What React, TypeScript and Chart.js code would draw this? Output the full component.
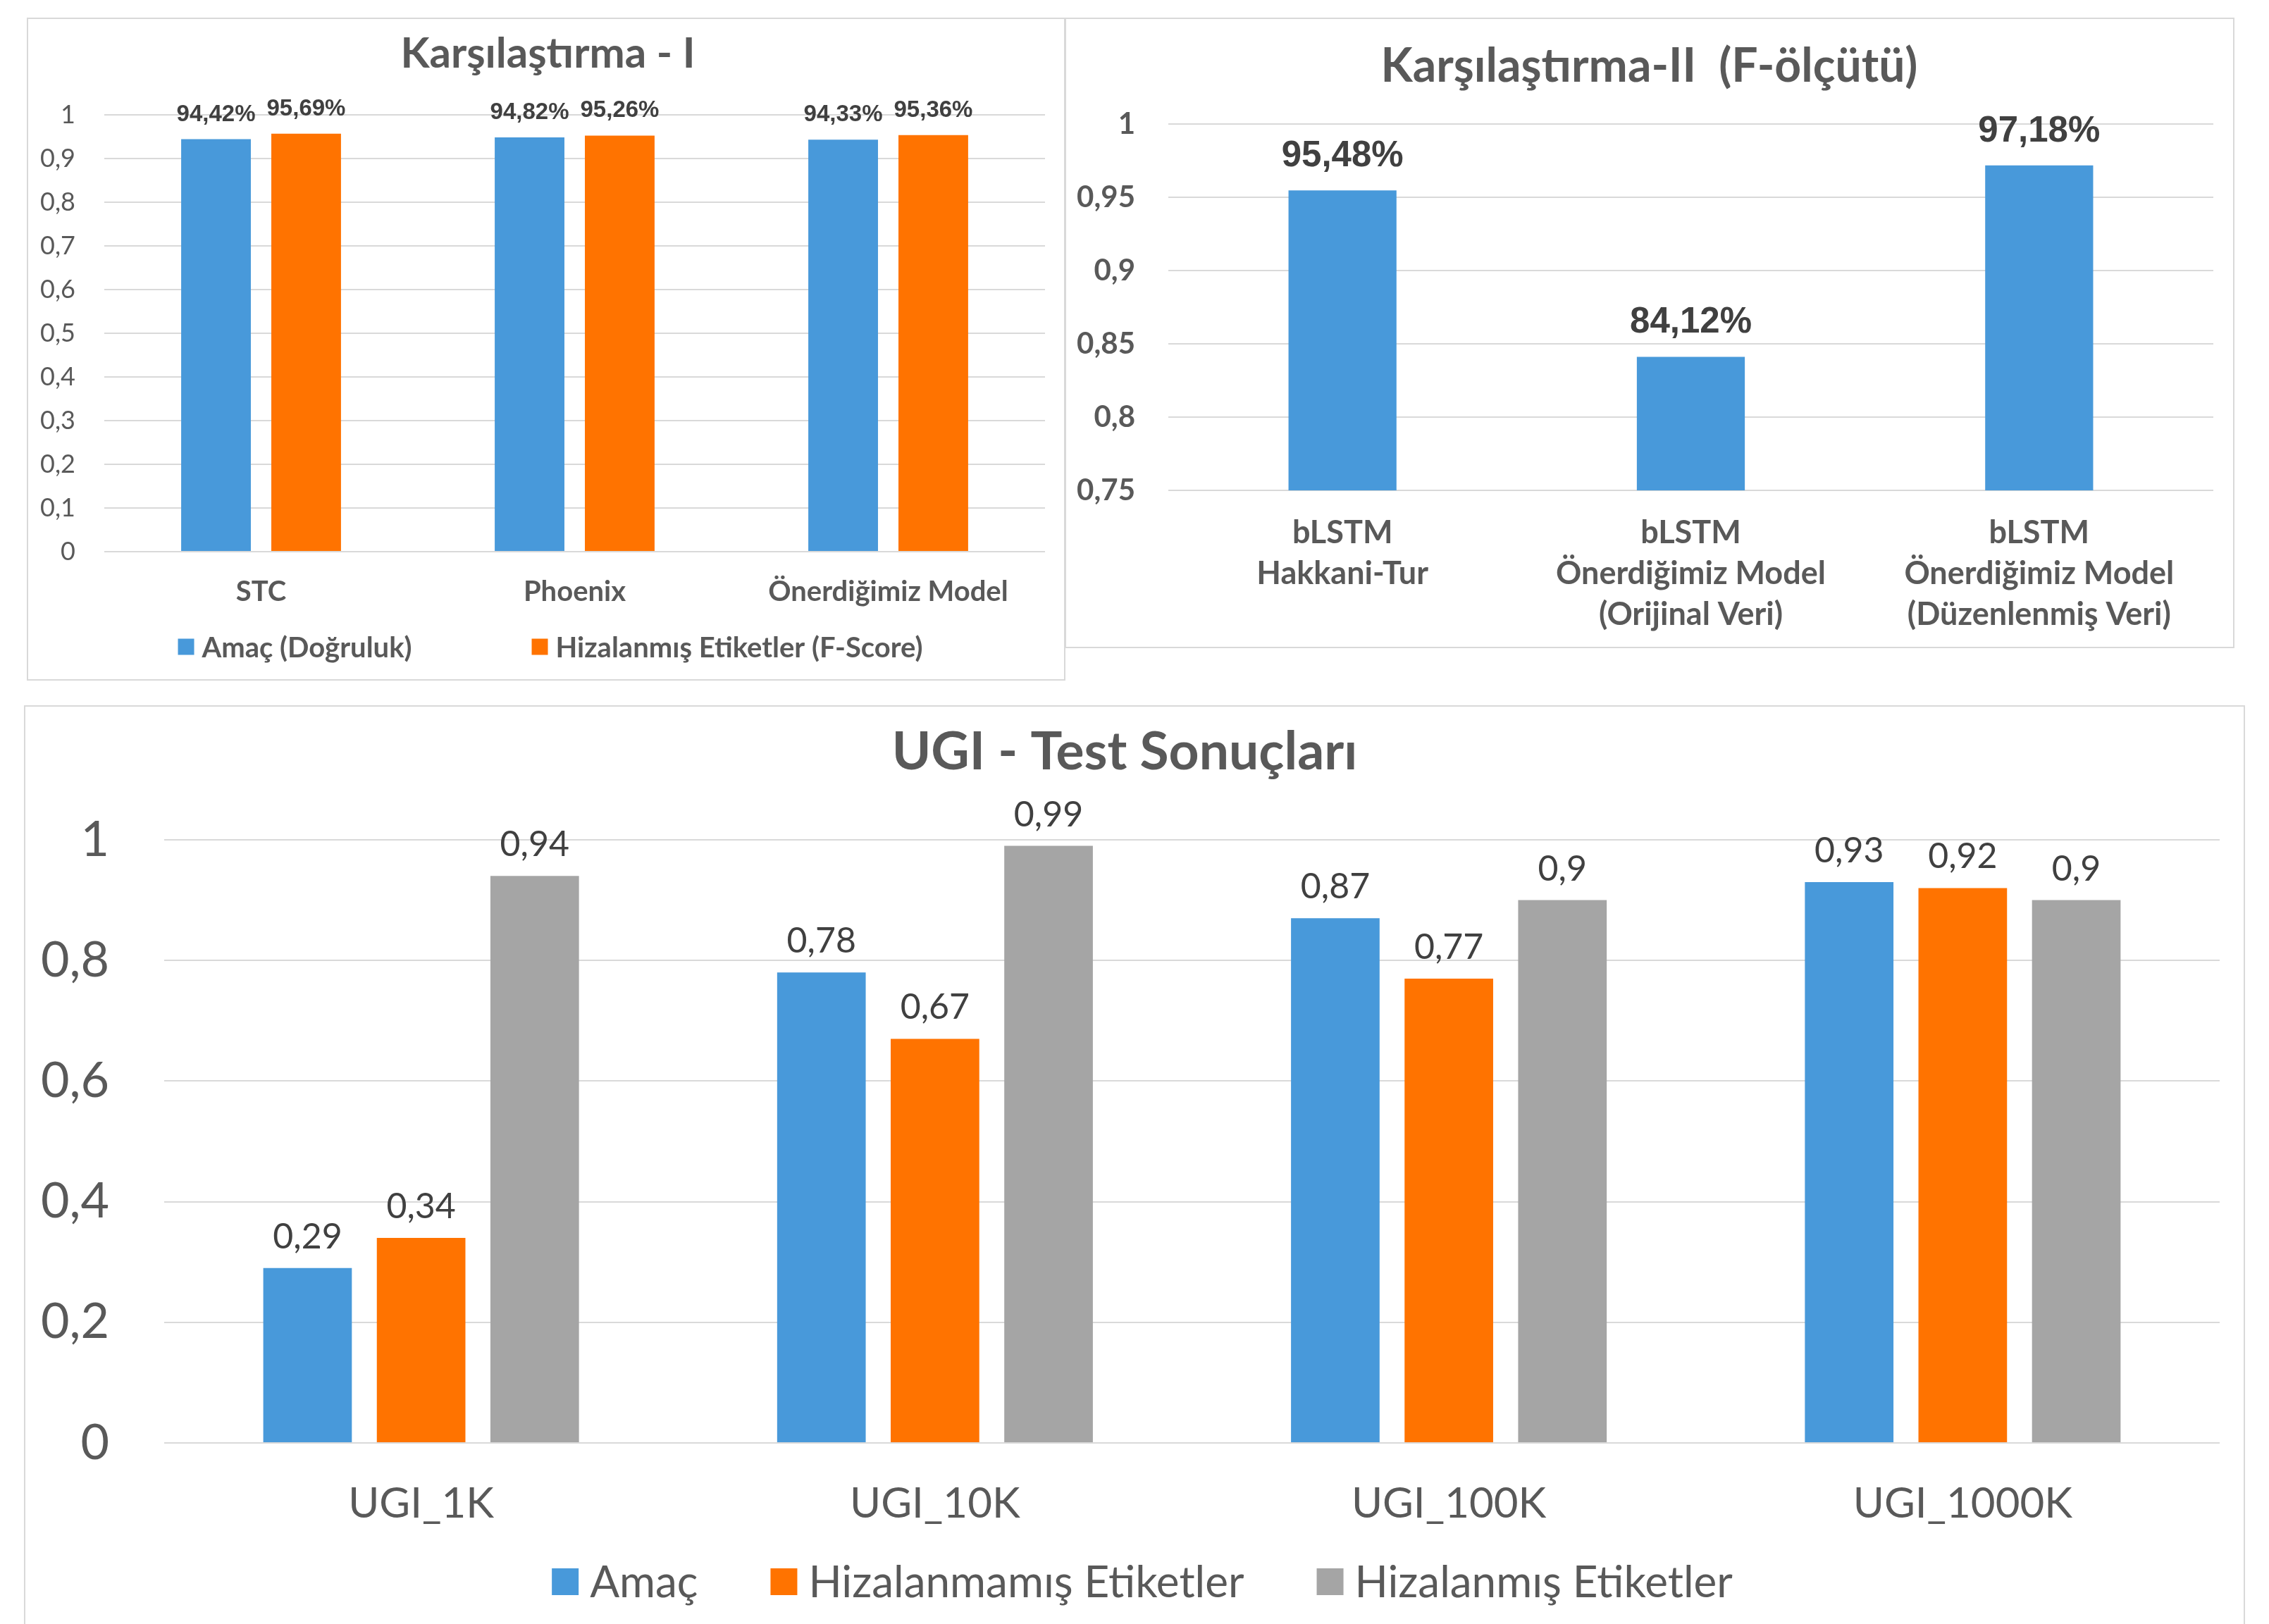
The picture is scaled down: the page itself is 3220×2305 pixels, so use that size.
import React, { useEffect, useRef } from 'react';
import { Chart, registerables } from 'chart.js';

Chart.register(...registerables);

// ---------- styling constants ----------
const FONT = 'Lato, "Open Sans", sans-serif';
const LABEL_FONT = '"Liberation Sans", Arial, sans-serif';
const TEXT = '#595959';
const DARK = '#404040';
const GRID = '#D9D9D9';
const BLUE = '#4899DA';
const ORANGE = '#FF7300';
const GRAY = '#A5A5A5';

// ---------- data: Karşılaştırma - I ----------
const cmp1Title = 'Karşılaştırma - I';
const cmp1Categories = ['STC', 'Phoenix', 'Önerdiğimiz Model'];
const cmp1SeriesNames = ['Amaç (Doğruluk)', 'Hizalanmış Etiketler (F-Score)'];
const cmp1Accuracy = [0.9442, 0.9482, 0.9433];
const cmp1FScore = [0.9569, 0.9526, 0.9536];
const cmp1Axis = [0, 1, 0.1]; // min, max, step

// ---------- data: Karşılaştırma-II ----------
const cmp2Title = 'Karşılaştırma-II  (F-ölçütü)';
const cmp2Categories = [
  ['bLSTM', 'Hakkani-Tur'],
  ['bLSTM', 'Önerdiğimiz Model', '(Orijinal Veri)'],
  ['bLSTM', 'Önerdiğimiz Model', '(Düzenlenmiş Veri)'],
];
const cmp2SeriesName = 'F-ölçütü';
const cmp2FMeasure = [0.9548, 0.8412, 0.9718];
const cmp2Axis = [0.75, 1, 0.05];

// ---------- data: UGI - Test Sonuçları ----------
const ugiTitle = 'UGI - Test Sonuçları';
const ugiCategories = ['UGI_1K', 'UGI_10K', 'UGI_100K', 'UGI_1000K'];
const ugiSeriesNames = ['Amaç', 'Hizalanmamış Etiketler', 'Hizalanmış Etiketler'];
const ugiAmac = [0.29, 0.78, 0.87, 0.93];
const ugiUnaligned = [0.34, 0.67, 0.77, 0.92];
const ugiAligned = [0.94, 0.99, 0.9, 0.9];
const ugiAxis = [0, 1, 0.2];

// ---------- helpers ----------
const decComma = (v: number) => String(Number(v.toFixed(2))).replace('.', ',');
const pctComma = (v: number) => (v * 100).toFixed(2).replace('.', ',') + '%';

const barLabels = {
  id: 'barLabels',
  afterDatasetsDraw(chart: any, _args: any, opts: any) {
    if (!opts || !opts.display) return;
    const ctx = chart.ctx;
    ctx.save();
    ctx.font = opts.font;
    ctx.fillStyle = opts.color;
    ctx.textAlign = 'center';
    ctx.textBaseline = 'alphabetic';
    chart.data.datasets.forEach((ds: any, di: number) => {
      const meta = chart.getDatasetMeta(di);
      meta.data.forEach((el: any, i: number) => {
        const v = ds.data[i];
        const txt = opts.format === 'pct' ? pctComma(v) : decComma(v);
        ctx.fillText(txt, el.x, el.y - opts.offset);
      });
    });
    ctx.restore();
  },
};

const boxLegend = {
  id: 'boxLegend',
  afterDraw(chart: any, _args: any, opts: any) {
    if (!opts || !opts.display) return;
    const ctx = chart.ctx;
    ctx.save();
    ctx.font = opts.font;
    ctx.textBaseline = 'middle';
    ctx.textAlign = 'left';
    const items = chart.data.datasets.map((d: any) => ({ text: d.label, color: d.backgroundColor }));
    const widths = items.map((it: any) => opts.box + opts.textGap + ctx.measureText(it.text).width);
    const total = widths.reduce((a: number, b: number) => a + b, 0) + opts.gap * (items.length - 1);
    let x = opts.centerX - total / 2;
    items.forEach((it: any, i: number) => {
      ctx.fillStyle = it.color;
      ctx.fillRect(x, opts.y - opts.box / 2, opts.box, opts.box);
      ctx.fillStyle = opts.color;
      ctx.fillText(it.text, x + opts.box + opts.textGap, opts.y + 2);
      x += widths[i] + opts.gap;
    });
    ctx.restore();
  },
};

// let the y tick labels use the room left of the axis box (title is centred with a left padding)
const yLabelRoom = {
  id: 'yLabelRoom',
  afterLayout(chart: any) {
    const s = chart.scales.y;
    if (s) s.left = 0;
  },
};

type Geo = {
  padL: number; padR: number;
  yWidth: number; yPad: number; yFont: any;
  xHeight: number; xPad: number; xFont: any;
  titleSize: number; titleTop: number; titleBottom: number;
  cp: number; bp: number;
  labelFont: string; labelOffset: number; labelFormat: string;
  legend: any;
};

function buildChart(canvas: HTMLCanvasElement, title: string, labels: any[], datasets: any[], axis: number[], g: Geo) {
  return new Chart(canvas, {
    type: 'bar',
    data: {
      labels,
      datasets: datasets.map((d) => ({
        ...d,
        borderWidth: 0,
        categoryPercentage: g.cp,
        barPercentage: g.bp,
      })),
    },
    plugins: [barLabels, boxLegend, yLabelRoom],
    options: {
      responsive: false,
      devicePixelRatio: 1,
      animation: false,
      events: [],
      layout: { padding: { left: g.padL, right: g.padR, top: 0, bottom: 0 } },
      plugins: {
        legend: { display: false },
        tooltip: { enabled: false },
        title: {
          display: true,
          text: title,
          color: TEXT,
          font: { family: FONT, size: g.titleSize, weight: 'bold', lineHeight: 1.2 },
          padding: { top: g.titleTop, bottom: g.titleBottom },
        },
        barLabels: { display: true, font: g.labelFont, color: DARK, offset: g.labelOffset, format: g.labelFormat },
        boxLegend: g.legend,
      } as any,
      scales: {
        x: {
          grid: { display: false, drawTicks: false },
          border: { display: false },
          ticks: { color: TEXT, font: g.xFont, padding: g.xPad, maxRotation: 0, autoSkip: false },
          afterFit: (s: any) => { s.height = g.xHeight; },
        },
        y: {
          min: axis[0],
          max: axis[1],
          grid: { color: GRID, lineWidth: 2, drawTicks: false },
          border: { display: false },
          ticks: {
            stepSize: axis[2],
            color: TEXT,
            font: g.yFont,
            padding: g.yPad,
            callback: (v: any) => decComma(Number(v)),
          },
          afterFit: (s: any) => { s.width = g.yWidth; },
        },
      },
    } as any,
  });
}

type Box = { x: number; y: number; w: number; h: number; noBottom?: boolean };

function Panel({ box, build }: { box: Box; build: (c: HTMLCanvasElement) => Chart }) {
  const ref = useRef<HTMLCanvasElement>(null);
  const cw = box.w - 4;
  const ch = box.h - (box.noBottom ? 2 : 4);
  useEffect(() => {
    let chart: Chart | null = null;
    let cancelled = false;
    const go = () => {
      if (cancelled || !ref.current) return;
      chart = build(ref.current);
    };
    const fonts: any = (document as any).fonts;
    if (fonts && fonts.load) {
      Promise.all([
        fonts.load('bold 40px Lato'),
        fonts.load('40px Lato'),
        fonts.load('bold 40px "Liberation Sans"'),
      ]).then(go, go);
    } else {
      go();
    }
    return () => {
      cancelled = true;
      if (chart) chart.destroy();
    };
  }, []);
  return (
    <div
      style={{
        position: 'absolute',
        left: box.x,
        top: box.y,
        width: box.w,
        height: box.h,
        boxSizing: 'border-box',
        border: '2px solid ' + GRID,
        borderBottom: box.noBottom ? 'none' : '2px solid ' + GRID,
        background: '#fff',
      }}
    >
      <canvas ref={ref} width={cw} height={ch} style={{ display: 'block', width: cw, height: ch }} />
    </div>
  );
}

const build1 = (c: HTMLCanvasElement) =>
  buildChart(
    c,
    cmp1Title,
    cmp1Categories,
    [
      { label: cmp1SeriesNames[0], data: cmp1Accuracy, backgroundColor: BLUE },
      { label: cmp1SeriesNames[1], data: cmp1FScore, backgroundColor: ORANGE },
    ],
    cmp1Axis,
    {
      padL: 32, padR: 27,
      yWidth: 76, yPad: 41, yFont: { family: FONT, size: 36 },
      xHeight: 181, xPad: 33, xFont: { family: FONT, size: 40, weight: 'bold' },
      titleSize: 60, titleTop: 14, titleBottom: 50,
      cp: 0.575, bp: 0.773,
      labelFont: 'bold 33px ' + LABEL_FONT, labelOffset: 26, labelFormat: 'pct',
      legend: { display: true, y: 891, centerX: 741, box: 23, textGap: 11, gap: 170, font: 'bold 40px ' + FONT, color: TEXT },
    }
  );

const build2 = (c: HTMLCanvasElement) =>
  buildChart(
    c,
    cmp2Title,
    cmp2Categories,
    [{ label: cmp2SeriesName, data: cmp2FMeasure, backgroundColor: BLUE }],
    cmp2Axis,
    {
      padL: 27, padR: 28,
      yWidth: 118, yPad: 47, yFont: { family: FONT, size: 42, weight: 'bold' },
      xHeight: 222, xPad: 32, xFont: { family: FONT, size: 45, weight: 'bold', lineHeight: 1.28 },
      titleSize: 66, titleTop: 28, titleBottom: 42,
      cp: 0.62, bp: 0.5,
      labelFont: 'bold 51px ' + LABEL_FONT, labelOffset: 34, labelFormat: 'pct',
      legend: { display: false },
    }
  );

const build3 = (c: HTMLCanvasElement) =>
  buildChart(
    c,
    ugiTitle,
    ugiCategories,
    [
      { label: ugiSeriesNames[0], data: ugiAmac, backgroundColor: BLUE },
      { label: ugiSeriesNames[1], data: ugiUnaligned, backgroundColor: ORANGE },
      { label: ugiSeriesNames[2], data: ugiAligned, backgroundColor: GRAY },
    ],
    ugiAxis,
    {
      padL: 6, padR: 34,
      yWidth: 191, yPad: 78, yFont: { family: FONT, size: 70 },
      xHeight: 257, xPad: 51, xFont: { family: FONT, size: 60 },
      titleSize: 75, titleTop: 20, titleBottom: 79,
      cp: 0.663, bp: 0.78,
      labelFont: '50px ' + FONT, labelOffset: 28, labelFormat: 'dec',
      legend: { display: true, y: 1242, centerX: 1585, box: 38, textGap: 16, gap: 103, font: '62px ' + FONT, color: TEXT },
    }
  );

export default function App() {
  return (
    <div style={{ position: 'absolute', left: 0, top: 0, width: 3220, height: 2305, background: '#fff', overflow: 'hidden' }}>
      <Panel box={{ x: 38, y: 25, w: 1474, h: 941 }} build={build1} />
      <Panel box={{ x: 1511, y: 25, w: 1660, h: 895 }} build={build2} />
      <Panel box={{ x: 34, y: 1001, w: 3152, h: 1304, noBottom: true }} build={build3} />
    </div>
  );
}
